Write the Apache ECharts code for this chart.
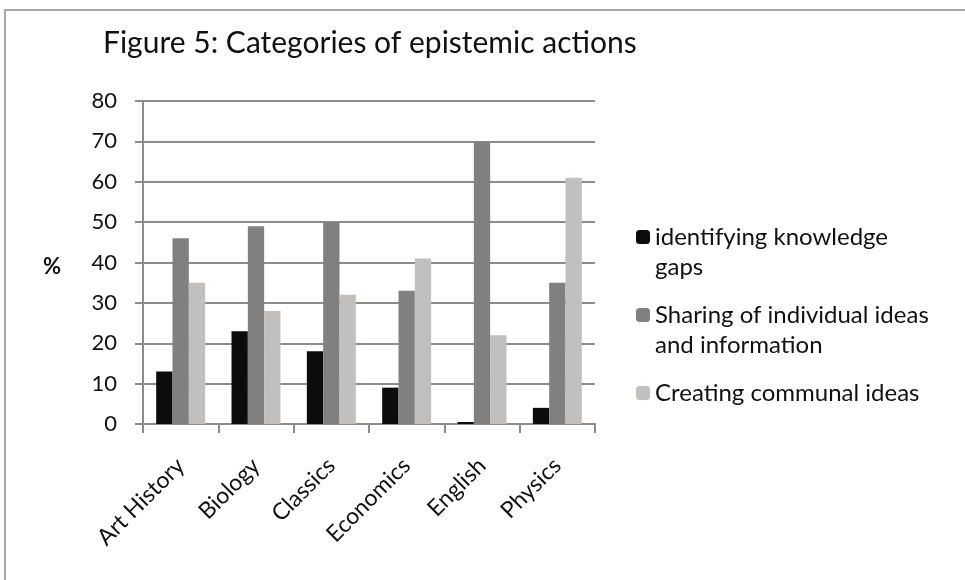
<!DOCTYPE html>
<html>
<head>
<meta charset="utf-8">
<script src="https://cdn.jsdelivr.net/npm/echarts@6/dist/echarts.min.js"></script>
<style>
  html, body { margin: 0; padding: 0; background: #fff; }
  #main { width: 965px; height: 580px; }
</style>
</head>
<body>
<div id="main"></div>
<script>
// categories and values
const subjects = ['Art History', 'Biology', 'Classics', 'Economics', 'English', 'Physics'];
const knowledgeGaps = [13, 23, 18, 9, 0.5, 4];
const sharingIdeas = [46, 49, 50, 33, 70, 35];
const communalIdeas = [35, 28, 32, 41, 22, 61];
const yTicks = [0, 80, 10]; // min, max, step

const seriesNames = [
    'identifying knowledge\ngaps',
    'Sharing of individual ideas\nand information',
    'Creating communal ideas'
];
const colors = ['#0c0c0c', '#808080', '#c1c0be'];
const font = 'Lato, "Open Sans", sans-serif';

const chart = echarts.init(document.getElementById('main'));

// legend icon sits beside the first text line: pad every entry to three lines,
// with an empty one on top, so the middle line lines up with the icon
function legendText(name) {
    let txt = ' \n' + name;
    if (name.indexOf('\n') < 0) txt += '\n ';
    return txt;
}

const option = {
    backgroundColor: '#fff',
    animation: false,
    color: colors,
    title: {
        text: 'Figure 5: Categories of epistemic actions',
        left: 98,
        top: 23,
        textStyle: { fontFamily: font, fontSize: 30, fontWeight: 'normal', color: '#111' }
    },
    legend: {
        orient: 'vertical',
        left: 636,
        top: 192,
        padding: 0,
        itemWidth: 14,
        itemHeight: 14,
        itemGap: -12,
        data: seriesNames,
        formatter: legendText,
        textStyle: { fontFamily: font, fontSize: 24, color: '#111', lineHeight: 30 }
    },
    grid: { left: 143, right: 370, top: 101, bottom: 156 },
    xAxis: {
        type: 'category',
        data: subjects,
        axisLine: { lineStyle: { color: '#8c8c8c', width: 2 } },
        axisTick: { show: true, length: 9, lineStyle: { color: '#8c8c8c', width: 2 } },
        axisLabel: {
            rotate: 45, margin: 38, interval: 0,
            fontFamily: font, fontSize: 23, color: '#111'
        }
    },
    yAxis: {
        type: 'value',
        min: yTicks[0],
        max: yTicks[1],
        interval: yTicks[2],
        axisLine: { show: true, lineStyle: { color: '#8c8c8c', width: 2 } },
        axisTick: { show: true, length: 8, lineStyle: { color: '#8c8c8c', width: 2 } },
        splitLine: { lineStyle: { color: '#8c8c8c', width: 2 } },
        axisLabel: { margin: 26, fontFamily: font, fontSize: 22, color: '#111' }
    },
    series: [
        { name: seriesNames[0], type: 'bar', data: knowledgeGaps, barGap: '0%', barCategoryGap: '35%' },
        { name: seriesNames[1], type: 'bar', data: sharingIdeas, barGap: '0%', barCategoryGap: '35%' },
        { name: seriesNames[2], type: 'bar', data: communalIdeas, barGap: '0%', barCategoryGap: '35%' }
    ],
    graphic: [
        {
            type: 'text', left: 43, top: 256,
            style: { text: '%', fontFamily: font, fontSize: 22, fontWeight: 'bold', fill: '#111' }
        },
        {
            type: 'polyline', silent: true,
            shape: { points: [[5, 580], [5, 10], [965, 10]] },
            style: { stroke: '#a8a8a8', lineWidth: 2, fill: null }
        }
    ]
};

chart.setOption(option);
</script>
</body>
</html>
